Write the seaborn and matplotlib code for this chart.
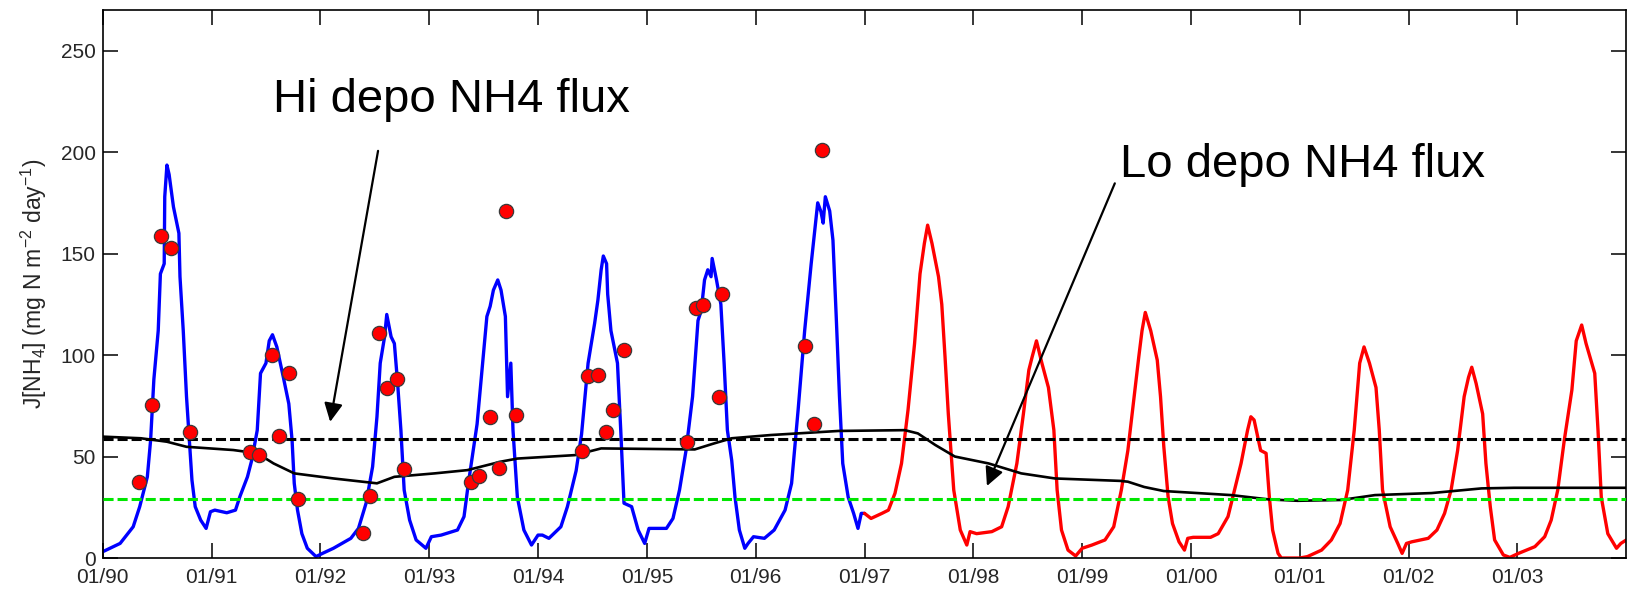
import matplotlib
matplotlib.use("Agg")
import matplotlib.pyplot as plt
import seaborn as sns

# Modelled NH4 flux, high deposition scenario (decimal year, mg N m-2 day-1)
hi_t = [1990.00, 1990.16, 1990.28, 1990.34, 1990.41, 1990.44, 1990.47, 1990.51, 1990.53, 1990.565,
        1990.57, 1990.59, 1990.61, 1990.65, 1990.70, 1990.71, 1990.74, 1990.77, 1990.79, 1990.82,
        1990.85, 1990.90, 1990.95, 1990.99, 1991.03, 1991.14, 1991.22, 1991.26, 1991.33, 1991.37,
        1991.42, 1991.45, 1991.50, 1991.53, 1991.56, 1991.60, 1991.66, 1991.71, 1991.74, 1991.76,
        1991.79, 1991.83, 1991.88, 1991.96, 1992.02, 1992.12, 1992.28, 1992.35, 1992.42, 1992.48,
        1992.52, 1992.55, 1992.59, 1992.61, 1992.65, 1992.68, 1992.71, 1992.74, 1992.77, 1992.82,
        1992.88, 1992.97, 1993.02, 1993.11, 1993.26, 1993.32, 1993.36, 1993.44, 1993.53, 1993.56,
        1993.59, 1993.63, 1993.66, 1993.70, 1993.72, 1993.75, 1993.77, 1993.81, 1993.87, 1993.94,
        1994.00, 1994.04, 1994.10, 1994.21, 1994.27, 1994.35, 1994.40, 1994.46, 1994.52, 1994.55,
        1994.58, 1994.60, 1994.63, 1994.64, 1994.67, 1994.73, 1994.76, 1994.79, 1994.86, 1994.92,
        1994.98, 1995.02, 1995.07, 1995.18, 1995.24, 1995.30, 1995.36, 1995.42, 1995.47, 1995.50,
        1995.53, 1995.56, 1995.59, 1995.60, 1995.64, 1995.68, 1995.71, 1995.74, 1995.78, 1995.81,
        1995.85, 1995.90, 1995.93, 1995.98, 1996.08, 1996.17, 1996.27, 1996.33, 1996.39, 1996.45,
        1996.51, 1996.54, 1996.57, 1996.60, 1996.62, 1996.64, 1996.68, 1996.71, 1996.74, 1996.77,
        1996.80, 1996.85, 1996.90, 1996.94, 1996.97, 1997.00]
hi_v = [3.1, 7.2, 15.4, 25.3, 40, 58, 88, 112, 140, 145,
        178, 193.6, 189, 173, 160, 138.6, 112, 79.5, 63, 38.4,
        25.3, 18.7, 14.6, 22.8, 23.6, 22.3, 23.6, 30.2, 40, 48.3,
        63, 91, 96, 107, 110, 104, 89, 76, 58, 36.8,
        23.6, 12, 4.8, 0.7, 2.3, 4.8, 9.7, 14.6, 27, 45,
        69.6, 96, 109, 120, 109, 105.7, 86, 63, 33.5, 18.7,
        8.9, 4.8, 10.5, 11.3, 13.8, 20.4, 36.8, 66, 119, 124,
        132, 137, 132, 119, 79.5, 96, 63, 30, 13.8, 6.4,
        11.3, 11.3, 9.7, 15.4, 25.3, 43, 61, 96, 115.6, 127,
        142, 148.8, 145, 130, 112, 96, 63, 27, 25.3, 13.8,
        7.2, 14.6, 14.6, 14.6, 19.5, 33.5, 53, 79.5, 117, 122,
        137, 142, 138.6, 147.6, 137, 125, 96, 63, 48, 30,
        13.8, 4.8, 7.2, 10.5, 9.7, 13.8, 23.6, 36.8, 73, 112,
        145, 160, 175, 170.6, 165, 178, 171, 156.6, 119, 79.5,
        46.6, 30, 22, 14.6, 22, 22]

# Modelled NH4 flux, low deposition scenario
lo_t = [1997.00, 1997.06, 1997.16, 1997.22, 1997.28, 1997.34, 1997.40, 1997.46, 1997.51, 1997.55,
        1997.58, 1997.62, 1997.68, 1997.71, 1997.74, 1997.77, 1997.82, 1997.88, 1997.94, 1997.97,
        1998.03, 1998.17, 1998.26, 1998.32, 1998.40, 1998.46, 1998.51, 1998.54, 1998.58, 1998.63,
        1998.69, 1998.74, 1998.77, 1998.81, 1998.87, 1998.94, 1999.00, 1999.09, 1999.21, 1999.29,
        1999.36, 1999.42, 1999.47, 1999.52, 1999.55, 1999.58, 1999.63, 1999.69, 1999.72, 1999.75,
        1999.79, 1999.83, 1999.89, 1999.94, 1999.97, 2000.02, 2000.18, 2000.25, 2000.34, 2000.40,
        2000.46, 2000.52, 2000.55, 2000.58, 2000.64, 2000.69, 2000.72, 2000.75, 2000.80, 2000.83,
        2001.00, 2001.07, 2001.20, 2001.29, 2001.37, 2001.44, 2001.50, 2001.55, 2001.59, 2001.64,
        2001.70, 2001.73, 2001.76, 2001.83, 2001.90, 2001.94, 2001.98, 2002.03, 2002.18, 2002.26,
        2002.33, 2002.39, 2002.45, 2002.51, 2002.55, 2002.58, 2002.62, 2002.68, 2002.71, 2002.75,
        2002.79, 2002.87, 2002.93, 2003.01, 2003.16, 2003.25, 2003.31, 2003.37, 2003.43, 2003.50,
        2003.54, 2003.59, 2003.63, 2003.71, 2003.74, 2003.77, 2003.83, 2003.91, 2003.95, 2004.00]
lo_v = [22, 19.5, 22, 23.6, 31.9, 46.6, 73, 105.7, 140, 155,
        164, 155, 138.6, 125, 99, 71, 33.5, 13.8, 6.4, 13,
        12, 13, 15.4, 25.3, 46.6, 71, 92.6, 99, 107, 96,
        84, 63, 33.5, 13.8, 3.9, 1, 4.8, 6.4, 8.9, 15.4,
        33.5, 53, 76, 99, 112, 121, 112, 97.5, 79.5, 55,
        30, 17, 8, 3.9, 9.7, 10.2, 10.2, 12, 20.4, 33.5,
        46.6, 63, 69.6, 68, 53, 51.6, 30, 13.8, 2.3, 0,
        0, 0.7, 3.9, 8.9, 17, 33.5, 63, 96, 104, 96,
        84, 63, 33.5, 15.4, 7.2, 2.3, 7.2, 8, 9.7, 13.8,
        22, 33.5, 53, 79.5, 89, 94, 86, 71, 46.6, 25.3,
        8.9, 1.5, 0.3, 2.3, 5.6, 10.5, 18.7, 33.5, 58, 82.8,
        107, 114.8, 105.7, 91, 63, 30, 12, 4.8, 7.2, 8.9]

# Running mean of the modelled flux
mean_t = [1990.00, 1990.35, 1990.59, 1990.77, 1991.20, 1991.42, 1991.57, 1991.76, 1992.12, 1992.52,
          1992.68, 1993.05, 1993.35, 1993.66, 1993.81, 1994.34, 1994.58, 1995.44, 1995.62, 1995.78,
          1996.14, 1996.76, 1997.37, 1997.49, 1997.65, 1997.83, 1998.14, 1998.44, 1998.75, 1999.35,
          1999.42, 1999.57, 1999.75, 2000.37, 2000.71, 2000.98, 2001.38, 2001.69, 2002.21, 2002.67,
          2002.97, 2004.00]
mean_v = [59.8, 59, 57.3, 54.8, 53.2, 51.6, 46.6, 41.7, 39.2, 36.8,
          40, 41.7, 43.3, 47.5, 49, 50.7, 54, 53.5, 56.5, 59,
          60.6, 62.6, 63, 61.4, 55.7, 50, 46.6, 41.7, 39.2, 38,
          37.6, 35, 33, 31, 28.9, 28.2, 28.6, 31, 32, 34.3,
          34.6, 34.6]

# Observed fluxes
obs_t = [1990.33, 1990.45, 1990.54, 1990.63, 1990.80, 1991.35, 1991.44, 1991.56, 1991.62, 1991.71,
         1991.79, 1992.39, 1992.46, 1992.54, 1992.61, 1992.70, 1992.77, 1993.38, 1993.46, 1993.56,
         1993.64, 1993.71, 1993.80, 1994.40, 1994.46, 1994.55, 1994.62, 1994.69, 1994.79, 1995.37,
         1995.45, 1995.52, 1995.66, 1995.69, 1996.45, 1996.54, 1996.61]
obs_v = [37.6, 75.4, 158.6, 152.5, 61.9, 52.4, 51, 100, 60, 91,
         29, 12.2, 30.5, 111, 83.6, 88, 43.8, 37.6, 40.6, 69.3,
         44.2, 171, 70.4, 52.9, 89.8, 90, 62, 72.9, 102.5, 57.3,
         123.3, 124.6, 79.1, 129.9, 104.6, 66, 201]

# Long-term mean deposition fluxes
hi_ref = 58.5
lo_ref = 29.2

years = list(range(1990, 2004))
year_labels = ["01/%02d" % (y % 100) for y in years]
y_ticks = [0, 50, 100, 150, 200, 250]

sns.set_theme(style="ticks")
plt.rcParams["font.family"] = ["Liberation Sans", "DejaVu Sans"]
plt.rcParams["mathtext.fontset"] = "custom"
plt.rcParams["mathtext.rm"] = "Liberation Sans"
plt.rcParams["mathtext.it"] = "Liberation Sans:italic"
plt.rcParams["mathtext.bf"] = "Liberation Sans:bold"

fig = plt.figure(figsize=(16.33, 5.92), dpi=100)
ax = fig.add_axes([0.0629, 0.0574, 0.9330, 0.9257])

sns.lineplot(x=hi_t, y=hi_v, color="#0000ff", linewidth=2.4, estimator=None, sort=False, ax=ax, zorder=2)
sns.lineplot(x=lo_t, y=lo_v, color="#ff0000", linewidth=2.4, estimator=None, sort=False, ax=ax, zorder=2)
sns.lineplot(x=mean_t, y=mean_v, color="black", linewidth=1.9, estimator=None, sort=False, ax=ax, zorder=3)

ax.axhline(hi_ref, color="black", linewidth=2.2, dashes=(3.3, 1.3), zorder=3)
ax.axhline(lo_ref, color="#00e600", linewidth=2.2, dashes=(3.3, 1.3), zorder=3)

sns.scatterplot(x=obs_t, y=obs_v, s=105, color="#ff0000", edgecolor="#3a3a3a", linewidth=0.9, ax=ax, zorder=5)

ax.annotate("", xy=(1992.09, 67.1), xytext=(1992.53, 200.6),
            arrowprops=dict(arrowstyle="-|>", color="black", lw=1.6, mutation_scale=28,
                            shrinkA=0, shrinkB=0), zorder=6)
ax.annotate("", xy=(1998.125, 35.5), xytext=(1999.30, 184.6),
            arrowprops=dict(arrowstyle="-|>", color="black", lw=1.6, mutation_scale=28,
                            shrinkA=0, shrinkB=0), zorder=6)
ax.text(1991.565, 219.7, "Hi depo NH4 flux", fontsize=34, color="black", va="baseline", ha="left")
ax.text(1999.35, 187.8, "Lo depo NH4 flux", fontsize=34, color="black", va="baseline", ha="left")

ax.set_xlim(1990, 2004)
ax.set_ylim(0, 270)
ax.set_xticks(years)
ax.set_xticklabels(year_labels)
ax.set_yticks(y_ticks)
ax.set_yticklabels([str(v) for v in y_ticks])

for side in ["top", "bottom", "left", "right"]:
    ax.spines[side].set_visible(True)
    ax.spines[side].set_color("black")
    ax.spines[side].set_linewidth(1.2)

ax.tick_params(axis="both", direction="in", length=11, width=1.1, color="black",
               top=True, right=True, labelsize=15, labelcolor="#262626")
ax.tick_params(axis="x", pad=7)
ax.tick_params(axis="y", pad=5)

ax.set_xlabel("")
ax.set_ylabel("J[NH$_4$] (mg N m$^{-2}$ day$^{-1}$)", fontsize=16.5, color="#262626")
ax.yaxis.set_label_coords(-0.0355, 0.5)

fig.savefig("out.png", dpi=100, facecolor="white")
